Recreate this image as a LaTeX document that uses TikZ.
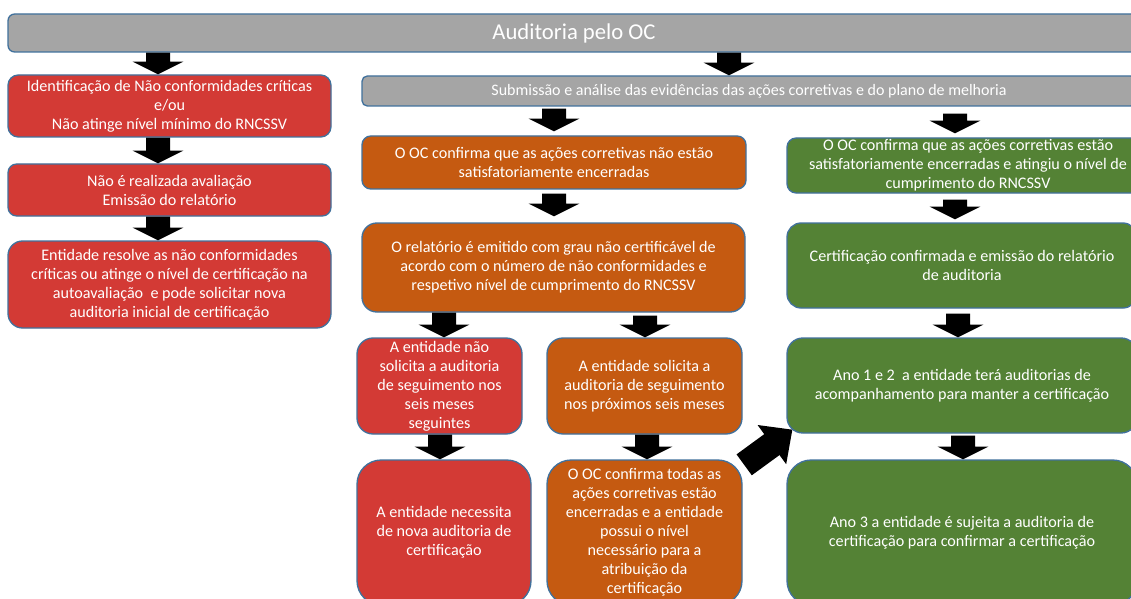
\documentclass[tikz,border=0pt]{standalone}
\usepackage{fontspec}
\setmainfont{Carlito}
\usetikzlibrary{calc}
\definecolor{bordc}{HTML}{41719C}
\definecolor{grayc}{HTML}{A5A5A5}
\definecolor{redc}{HTML}{D33A35}
\definecolor{orc}{HTML}{C55A11}
\definecolor{grc}{HTML}{548235}
\tikzset{
  fbox/.style={draw=bordc, line width=1pt, text=white, align=center, inner sep=0pt,
    font=\fontsize{12.1}{14.25}\selectfont},
  redbox/.style={fbox, fill=redc},
  orbox/.style={fbox, fill=orc},
  grbox/.style={fbox, fill=grc},
  graybox/.style={fbox, fill=grayc},
}
% name, x1, y1, x2, y2, style, text  (pixel coordinates)
\newcommand\flowbox[7]{%
  \pgfmathsetmacro\fbw{(#4-#2)*0.75}%
  \pgfmathsetmacro\fbh{(#5-#3)*0.75}%
  \pgfmathsetmacro\fbr{min(\fbw,\fbh)*0.1667}%
  \node[#6, minimum width=\fbw pt, minimum height=\fbh pt, rounded corners=\fbr pt]
    (#1) at ({(#2+#4)/2},{(#3+#5)/2}) {#7};}
% block arrow: start, end, shaft half width, head half width, head length
\newcommand\blockarrow[5]{%
  \coordinate (bP) at #1; \coordinate (bQ) at #2;
  \coordinate (bH) at ($(bQ)!#5!(bP)$);
  \fill[black] ($(bP)!#3!90:(bQ)$) -- ($(bH)!#3!-90:(bP)$) -- ($(bH)!#4!-90:(bP)$)
    -- (bQ) -- ($(bH)!#4!90:(bP)$) -- ($(bH)!#3!90:(bP)$) -- ($(bP)!#3!-90:(bQ)$) -- cycle;}
\newcommand\downarr[2]{\blockarrow{#1}{#2}{9pt}{19pt}{9.5pt}}
\begin{document}
\begin{tikzpicture}[x=0.75pt,y=-0.75pt]
\useasboundingbox (0,0) rectangle (1131,599);
\fill[white] (0,0) rectangle (1131,599);
\clip (0,0) rectangle (1131,599);

% top bar
\node[graybox, minimum width=849pt, minimum height=28.5pt, rounded corners=5pt,
  font=\fontsize{17}{20}\selectfont] (top) at (574,33) {Auditoria pelo OC};

% left column
\flowbox{L1}{8}{75}{331}{137}{redbox}{Identificação de Não conformidades críticas\\ e/ou\\ Não atinge nível mínimo do RNCSSV}
\flowbox{L2}{8}{164}{331}{216}{redbox}{Não é realizada avaliação\\ Emissão do relatório}
\flowbox{L3}{8}{241}{331}{328}{redbox}{Entidade resolve as não conformidades\\ críticas ou atinge o nível de certificação na\\ autoavaliação\ \ e pode solicitar nova\\ auditoria inicial de certificação}

% submission bar
\node[graybox, minimum width=580.5pt, minimum height=22.5pt, rounded corners=4pt,
  font=\fontsize{12}{14}\selectfont] (sub) at (749,91) {Submissão e análise das evidências das ações corretivas e do plano de melhoria};

% middle column
\flowbox{O1}{362}{136}{746}{189}{orbox}{O OC confirma que as ações corretivas não estão\\ satisfatoriamente encerradas}
\flowbox{O2}{362}{223}{745}{312}{orbox}{O relatório é emitido com grau não certificável de\\ acordo com o número de não conformidades e\\ respetivo nível de cumprimento do RNCSSV}
\flowbox{A}{357}{338}{522}{434}{redbox}{A entidade não\\ solicita a auditoria\\ de seguimento nos\\ seis meses\\ seguintes}
\flowbox{B}{547}{338}{742}{434}{orbox}{A entidade solicita a\\ auditoria de seguimento\\ nos próximos seis meses}
\flowbox{C}{357}{460}{531}{605}{redbox}{A entidade necessita\\ de nova auditoria de\\ certificação}
\flowbox{D}{547}{460}{742}{605}{orbox}{O OC confirma todas as\\ ações corretivas estão\\ encerradas e a entidade\\ possui o nível\\ necessário para a\\ atribuição da\\ certificação}

% right column
\flowbox{G1}{787}{138}{1149}{193}{grbox}{O OC confirma que as ações corretivas estão\\ satisfatoriamente encerradas e atingiu o nível de\\ cumprimento do RNCSSV}
\flowbox{G2}{787}{223}{1137}{308}{grbox}{Certificação confirmada e emissão do relatório\\ de auditoria}
\flowbox{G3}{787}{338}{1137}{433}{grbox}{Ano 1 e 2\ \ a entidade terá auditorias de\\ acompanhamento para manter a certificação}
\flowbox{G4}{787}{460}{1137}{605}{grbox}{Ano 3 a entidade é sujeita a auditoria de\\ certificação para confirmar a certificação}

% arrow x positions
\coordinate (xl) at (158,0);
\coordinate (xs) at (729,0);
\coordinate (xo) at (554,0);
\coordinate (xg1) at (955,0);
\coordinate (xg2) at (958,0);
\coordinate (xg3) at (963,0);
\coordinate (xa) at (444,0);
\coordinate (xb) at (645,0);
\coordinate (xc) at (440,0);
\coordinate (xd) at (647,0);

\downarr{(top.south -| xl)}{(L1.north -| xl)}
\downarr{(L1.south -| xl)}{(L2.north -| xl)}
\downarr{(L2.south -| xl)}{(L3.north -| xl)}
\downarr{(top.south -| xs)}{(sub.north -| xs)}
\downarr{($(sub.south -| xo)+(0,2)$)}{($(O1.north -| xo)+(0,-4)$)}
\downarr{($(O1.south -| xo)+(0,4)$)}{($(O2.north -| xo)+(0,-6)$)}
\downarr{($(sub.south -| xg1)+(0,7)$)}{($(G1.north -| xg1)+(0,-4)$)}
\downarr{($(G1.south -| xg1)+(0,6)$)}{($(G2.north -| xg1)+(0,-3)$)}
\downarr{($(G2.south -| xg2)+(0,5)$)}{(G3.north -| xg2)}
\downarr{($(G3.south -| xg3)+(0,2)$)}{(G4.north -| xg3)}
\downarr{(O2.south -| xa)}{(A.north -| xa)}
\downarr{($(O2.south -| xb)+(0,3)$)}{(B.north -| xb)}
\downarr{(A.south -| xc)}{(C.north -| xc)}
\downarr{(B.south -| xd)}{(D.north -| xd)}
% diagonal arrow
\blockarrow{($(D.north east)+(1.5,5.5)$)}{($(G3.south west)+(6,-4)$)}{9.7pt}{18.2pt}{19pt}
\end{tikzpicture}
\end{document}
